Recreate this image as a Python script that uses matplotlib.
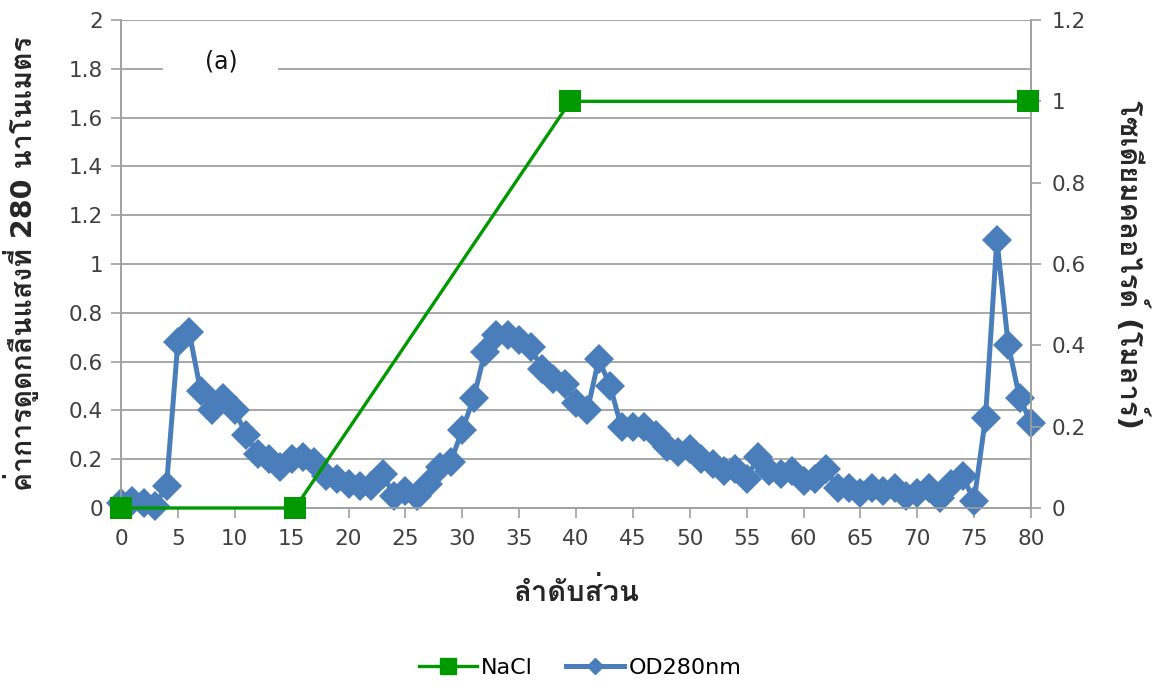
import matplotlib
matplotlib.use('Agg')
import matplotlib.pyplot as plt
from matplotlib import font_manager
from matplotlib.ft2font import FT2Font
from matplotlib.patches import Rectangle
from matplotlib.lines import Line2D

# data
fraction = list(range(0, 81))
od280 = [0.02, 0.03, 0.02, 0.01, 0.09, 0.68, 0.72, 0.48, 0.40, 0.45,
         0.40, 0.30, 0.22, 0.20, 0.17, 0.20, 0.21, 0.19, 0.13, 0.12,
         0.10, 0.09, 0.09, 0.14, 0.05, 0.07, 0.05, 0.10, 0.17, 0.19,
         0.32, 0.45, 0.64, 0.71, 0.71, 0.69, 0.66, 0.57, 0.53, 0.51,
         0.43, 0.40, 0.61, 0.50, 0.33, 0.33, 0.33, 0.30, 0.25, 0.23,
         0.24, 0.20, 0.18, 0.15, 0.16, 0.12, 0.21, 0.15, 0.14, 0.15,
         0.11, 0.12, 0.16, 0.08, 0.08, 0.06, 0.08, 0.07, 0.08, 0.05,
         0.06, 0.08, 0.04, 0.10, 0.13, 0.03, 0.37, 1.10, 0.67, 0.45,
         0.35]
nacl_x = [0, 15.3, 39.5, 79.7]
nacl_y = [0, 0, 1.0, 1.0]

left_label = 'ค่าการดูดกลืนแสงที่ 280 นาโนเมตร'
right_label = 'โซเดียมคลอไรด์ (โมลาร์)'
x_label = 'ลำดับส่วน'

# find some installed font that has Thai glyphs
thai_font = None
for f in font_manager.fontManager.ttflist:
    try:
        if 0x0E01 in FT2Font(f.fname).get_charmap():
            thai_font = f.name
            break
    except Exception:
        pass
families = ['DejaVu Sans'] + ([thai_font] if thai_font else [])
plt.rcParams['font.family'] = families

blue = '#4A7EBB'
green = '#009A00'
grey = '#A0A0A0'

fig = plt.figure(figsize=(11.6, 6.91), dpi=100)
ax = fig.add_axes([121/1160, 1 - 508/691, 910/1160, 488/691])
ax2 = ax.twinx()

ax.plot(fraction, od280, color=blue, lw=3.6, marker='D', ms=15,
        markeredgewidth=0, zorder=3, clip_on=False)
ax2.plot(nacl_x, nacl_y, color=green, lw=2.4, marker='s', ms=16,
         markeredgewidth=0, zorder=3, clip_on=False)

ax.set_xlim(0, 80)
ax.set_ylim(0, 2)
ax2.set_ylim(0, 1.2)
ax.set_xticks(range(0, 81, 5))
ax.set_yticks([i * 0.2 for i in range(11)])
ax.set_yticklabels(['0', '0.2', '0.4', '0.6', '0.8', '1', '1.2', '1.4', '1.6', '1.8', '2'])
ax2.set_yticks([i * 0.2 for i in range(7)])
ax2.set_yticklabels(['0', '0.2', '0.4', '0.6', '0.8', '1', '1.2'])

ax.yaxis.grid(True, color=grey, lw=1.3)
ax.set_axisbelow(True)
for a in (ax, ax2):
    a.spines['top'].set_visible(False)
    for s in ('left', 'right', 'bottom'):
        a.spines[s].set_color(grey)
        a.spines[s].set_linewidth(1.2)
    a.tick_params(colors='#404040', labelsize=15.5, length=7, width=1.2, color=grey)
ax.tick_params(axis='x', pad=8)
ax.tick_params(axis='y', pad=6)
ax2.tick_params(axis='y', pad=8)

ax.set_xlabel(x_label, fontsize=21, fontweight='bold', color='#262626', labelpad=21)
ax.set_ylabel(left_label, fontsize=20.5, fontweight='bold', color='#262626')
ax.yaxis.set_label_coords(-0.09, 0.5)
ax2.set_ylabel(right_label, fontsize=21, fontweight='bold', color='#262626',
               rotation=270, labelpad=44)

# white box behind the panel letter
ax.add_patch(Rectangle((0.046, 0.857), 0.127, 0.138, transform=ax.transAxes,
                       facecolor='white', edgecolor='none', zorder=2))
ax.text(0.11, 0.914, '(a)', transform=ax.transAxes, fontsize=17,
        ha='center', va='center', color='#111111', zorder=4)

handles = [Line2D([], [], color=green, lw=2.4, marker='s', ms=11),
           Line2D([], [], color=blue, lw=3.6, marker='D', ms=8)]
fig.legend(handles, ['NaCl', 'OD280nm'], loc='center', bbox_to_anchor=(0.5, 1 - 668/691),
           ncol=2, frameon=False, fontsize=16, handlelength=2.6, columnspacing=1.5,
           handletextpad=0.2)

fig.savefig('out.png', dpi=100)
